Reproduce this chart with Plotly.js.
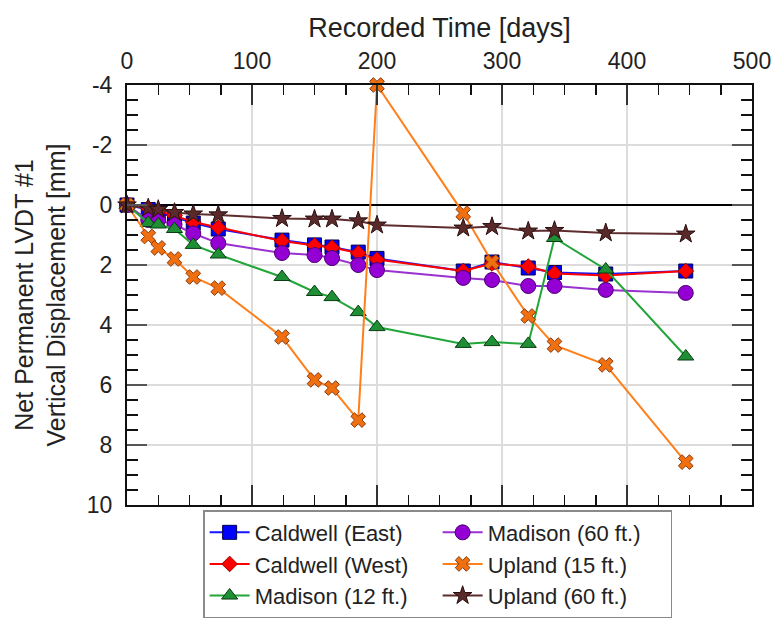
<!DOCTYPE html>
<html>
<head>
<meta charset="utf-8">
<script src="https://cdn.plot.ly/plotly-3.0.1.min.js"></script>
<style>html,body{margin:0;padding:0;background:#fff;}#chart{width:776px;height:621px;}</style>
</head>
<body>
<div id="chart"></div>
<script>
// Recorded time [days]
const days = [0, 17, 25, 38, 53, 73, 124, 150, 164, 185, 200, 269, 292, 321, 342, 383, 447];

// Net permanent vertical displacement [mm]
const caldwellEast = [0, 0.15, 0.25, 0.4, 0.6, 0.8, 1.17, 1.33, 1.4, 1.57, 1.78, 2.2, 1.9, 2.1, 2.25, 2.3, 2.2];
const caldwellWest = [0, 0.1, 0.2, 0.35, 0.57, 0.75, 1.2, 1.35, 1.42, 1.6, 1.82, 2.2, 1.95, 2.05, 2.28, 2.35, 2.2];
const madison12 = [0, 0.6, 0.65, 0.8, 1.33, 1.65, 2.4, 2.9, 3.07, 3.57, 4.07, 4.63, 4.57, 4.63, 1.1, 2.15, 5.05];
const madison60 = [0, 0.5, 0.5, 0.65, 0.95, 1.27, 1.6, 1.67, 1.77, 2.0, 2.17, 2.43, 2.5, 2.7, 2.7, 2.83, 2.93];
const upland15 = [0, 1.05, 1.43, 1.8, 2.4, 2.77, 4.4, 5.83, 6.1, 7.17, -4, 0.27, 1.9, 3.7, 4.67, 5.33, 8.57];
const upland60 = [0, 0.1, 0.15, 0.25, 0.3, 0.33, 0.45, 0.47, 0.47, 0.53, 0.67, 0.77, 0.72, 0.87, 0.85, 0.93, 0.97];

const seriesNames = ["Caldwell (East)", "Caldwell (West)", "Madison (60 ft.)", "Madison (12 ft.)", "Upland (15 ft.)", "Upland (60 ft.)"];
const seriesValues = [caldwellEast, caldwellWest, madison60, madison12, upland15, upland60];

// axis tick labels
const xTickVals = [0, 100, 200, 300, 400, 500];
const xTickText = ['0', '100', '200', '300', '400', '500'];
const yTickVals = [-4, -2, 0, 2, 4, 6, 8, 10];
const yTickText = ['-4', '-2', '0', '2', '4', '6', '8', '10'];

const styles = [
  {line:'#1515ff', fill:'#0000ff', edge:'#000050', symbol:'square', size:14, rank:1},
  {line:'#ff0000', fill:'#ff0000', edge:'#a00000', symbol:'diamond', size:12, rank:3},
  {line:'#9a30d0', fill:'#9400d3', edge:'#4a0070', symbol:'circle', size:15, rank:2},
  {line:'#22a63a', fill:'#1f8f35', edge:'#0b3d12', symbol:'triangle-up', size:14, rank:5},
  {line:'#ff7f1a', fill:'#f07010', edge:'#8a3a10', symbol:'x', size:13, rank:4},
  {line:'#5e2c2c', fill:'#5a2a2a', edge:'#2a0f0f', symbol:'star', size:14, rank:6}
];

const traces = seriesNames.map((name, i) => ({
  type: 'scatter',
  mode: 'lines+markers',
  name: name,
  x: days,
  y: seriesValues[i],
  cliponaxis: false,
  legendrank: styles[i].rank,
  line: {color: styles[i].line, width: 2},
  marker: {symbol: styles[i].symbol, size: styles[i].size, color: styles[i].fill,
           line: {color: styles[i].edge, width: 1}}
}));

const fontFam = '"Liberation Sans", Arial, sans-serif';

const layout = {
  width: 776, height: 621,
  margin: {l: 127, r: 24, t: 85, b: 116, autoexpand: false},
  paper_bgcolor: '#fff', plot_bgcolor: '#fff',
  font: {family: fontFam, size: 22, color: '#222'},
  showlegend: true,
  xaxis: {
    side: 'top',
    range: [0, 500],
    automargin: false,
    tickmode: 'array', tickvals: xTickVals, ticktext: xTickText,
    ticks: 'inside', ticklen: 20, tickwidth: 1.5, tickcolor: '#333',
    ticklabelstandoff: 5,
    mirror: 'allticks',
    showline: true, linecolor: '#111', linewidth: 2,
    showgrid: true, gridcolor: '#dcdcdc', gridwidth: 1.5,
    zeroline: false,
    minor: {dtick: 25, tick0: 0, ticks: 'inside', ticklen: 10, tickwidth: 1.5, tickcolor: '#111', showgrid: false},
    tickfont: {size: 23, family: fontFam, color: '#222'},
    title: {text: 'Recorded Time [days]', font: {size: 27, family: fontFam, color: '#222'}, standoff: 2}
  },
  yaxis: {
    range: [10, -4],
    automargin: false,
    tickmode: 'array', tickvals: yTickVals, ticktext: yTickText,
    ticks: 'inside', ticklen: 20, tickwidth: 1.5, tickcolor: '#555',
    ticklabelstandoff: 8,
    mirror: 'allticks',
    showline: true, linecolor: '#111', linewidth: 2,
    showgrid: true, gridcolor: '#dcdcdc', gridwidth: 1.5,
    zeroline: true, zerolinecolor: '#000', zerolinewidth: 1.5,
    minor: {dtick: 0.5, tick0: 0, ticks: 'inside', ticklen: 11, tickwidth: 1.5, tickcolor: '#111', showgrid: false},
    tickfont: {size: 23, family: fontFam, color: '#222'},
    title: {text: 'Net Permanent LVDT #1<br>Vertical Displacement [mm]', font: {size: 25, family: fontFam, color: '#222'}, standoff: 14}
  },
  legend: {
    orientation: 'h',
    x: 0.497, xanchor: 'center',
    y: -0.012, yanchor: 'top',
    bgcolor: '#fff', bordercolor: '#8a8a8a', borderwidth: 1.5,
    font: {size: 22, family: fontFam, color: '#222'},
    entrywidth: 178, entrywidthmode: 'pixels',
    traceorder: 'normal', itemwidth: 40, tracegroupgap: 0
  }
};

Plotly.newPlot('chart', traces, layout, {displayModeBar: false, staticPlot: true});
</script>
</body>
</html>
